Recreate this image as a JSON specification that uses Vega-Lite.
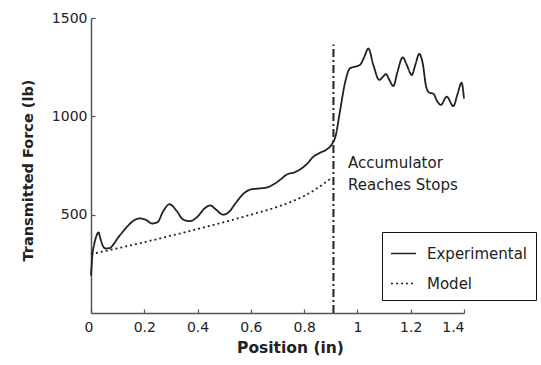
{
  "$schema": "https://vega.github.io/schema/vega-lite/v6.json",
  "autosize": "none",
  "width": 373,
  "height": 295,
  "padding": {"left": 91, "top": 18, "right": 77, "bottom": 52},
  "background": "white",
  "config": {
    "view": {"stroke": null},
    "font": "DejaVu Sans",
    "axis": {"grid": false, "domainColor": "#555", "domainWidth": 1.5, "tickColor": "#555", "tickSize": -4, "tickWidth": 1.2, "labelFont": "DejaVu Sans", "labelFontSize": 14, "labelColor": "#222", "titleFont": "DejaVu Sans", "titleFontWeight": "bold", "titleColor": "#222"}
  },
  "datasets": {
    "exp": [
      {"x": 0, "y": 190, "s": "Experimental"}, {"x": 0.005, "y": 290, "s": "Experimental"}, {"x": 0.012, "y": 350, "s": "Experimental"}, {"x": 0.02, "y": 390, "s": "Experimental"}, {"x": 0.028, "y": 410, "s": "Experimental"}, {"x": 0.036, "y": 375, "s": "Experimental"}, {"x": 0.045, "y": 340, "s": "Experimental"}, {"x": 0.055, "y": 328, "s": "Experimental"}, {"x": 0.07, "y": 330, "s": "Experimental"}, {"x": 0.085, "y": 350, "s": "Experimental"}, {"x": 0.1, "y": 380, "s": "Experimental"}, {"x": 0.12, "y": 414, "s": "Experimental"}, {"x": 0.14, "y": 445, "s": "Experimental"}, {"x": 0.16, "y": 470, "s": "Experimental"}, {"x": 0.185, "y": 481, "s": "Experimental"}, {"x": 0.205, "y": 474, "s": "Experimental"}, {"x": 0.23, "y": 455, "s": "Experimental"}, {"x": 0.25, "y": 462, "s": "Experimental"}, {"x": 0.27, "y": 515, "s": "Experimental"}, {"x": 0.295, "y": 553, "s": "Experimental"}, {"x": 0.32, "y": 522, "s": "Experimental"}, {"x": 0.345, "y": 476, "s": "Experimental"}, {"x": 0.37, "y": 467, "s": "Experimental"}, {"x": 0.4, "y": 490, "s": "Experimental"}, {"x": 0.425, "y": 530, "s": "Experimental"}, {"x": 0.447, "y": 547, "s": "Experimental"}, {"x": 0.47, "y": 525, "s": "Experimental"}, {"x": 0.495, "y": 500, "s": "Experimental"}, {"x": 0.515, "y": 510, "s": "Experimental"}, {"x": 0.545, "y": 563, "s": "Experimental"}, {"x": 0.575, "y": 610, "s": "Experimental"}, {"x": 0.6, "y": 628, "s": "Experimental"}, {"x": 0.63, "y": 633, "s": "Experimental"}, {"x": 0.66, "y": 638, "s": "Experimental"}, {"x": 0.68, "y": 650, "s": "Experimental"}, {"x": 0.705, "y": 672, "s": "Experimental"}, {"x": 0.735, "y": 704, "s": "Experimental"}, {"x": 0.765, "y": 716, "s": "Experimental"}, {"x": 0.79, "y": 735, "s": "Experimental"}, {"x": 0.81, "y": 757, "s": "Experimental"}, {"x": 0.835, "y": 795, "s": "Experimental"}, {"x": 0.86, "y": 815, "s": "Experimental"}, {"x": 0.885, "y": 832, "s": "Experimental"}, {"x": 0.905, "y": 860, "s": "Experimental"}, {"x": 0.918, "y": 900, "s": "Experimental"}, {"x": 0.935, "y": 1030, "s": "Experimental"}, {"x": 0.953, "y": 1168, "s": "Experimental"}, {"x": 0.972, "y": 1244, "s": "Experimental"}, {"x": 0.99, "y": 1252, "s": "Experimental"}, {"x": 1.01, "y": 1262, "s": "Experimental"}, {"x": 1.025, "y": 1300, "s": "Experimental"}, {"x": 1.041, "y": 1345, "s": "Experimental"}, {"x": 1.06, "y": 1260, "s": "Experimental"}, {"x": 1.082, "y": 1185, "s": "Experimental"}, {"x": 1.095, "y": 1200, "s": "Experimental"}, {"x": 1.107, "y": 1215, "s": "Experimental"}, {"x": 1.12, "y": 1185, "s": "Experimental"}, {"x": 1.135, "y": 1154, "s": "Experimental"}, {"x": 1.15, "y": 1225, "s": "Experimental"}, {"x": 1.17, "y": 1300, "s": "Experimental"}, {"x": 1.185, "y": 1262, "s": "Experimental"}, {"x": 1.204, "y": 1210, "s": "Experimental"}, {"x": 1.218, "y": 1265, "s": "Experimental"}, {"x": 1.232, "y": 1317, "s": "Experimental"}, {"x": 1.245, "y": 1270, "s": "Experimental"}, {"x": 1.258, "y": 1150, "s": "Experimental"}, {"x": 1.27, "y": 1120, "s": "Experimental"}, {"x": 1.285, "y": 1115, "s": "Experimental"}, {"x": 1.298, "y": 1080, "s": "Experimental"}, {"x": 1.313, "y": 1058, "s": "Experimental"}, {"x": 1.335, "y": 1100, "s": "Experimental"}, {"x": 1.36, "y": 1052, "s": "Experimental"}, {"x": 1.375, "y": 1110, "s": "Experimental"}, {"x": 1.391, "y": 1171, "s": "Experimental"}, {"x": 1.4, "y": 1090, "s": "Experimental"},
      {"x": 0, "y": 300, "s": "Model"}, {"x": 0.05, "y": 314, "s": "Model"}, {"x": 0.1, "y": 329, "s": "Model"}, {"x": 0.2, "y": 360, "s": "Model"}, {"x": 0.3, "y": 393, "s": "Model"}, {"x": 0.4, "y": 427, "s": "Model"}, {"x": 0.5, "y": 462, "s": "Model"}, {"x": 0.6, "y": 500, "s": "Model"}, {"x": 0.7, "y": 540, "s": "Model"}, {"x": 0.75, "y": 565, "s": "Model"}, {"x": 0.8, "y": 595, "s": "Model"}, {"x": 0.85, "y": 635, "s": "Model"}, {"x": 0.905, "y": 690, "s": "Model"}
    ],
    "stop": [{"x": 0.91, "y": 0, "y2": 1365}],
    "notes": [{"x": 0.965, "y": 763, "t": "Accumulator"}, {"x": 0.965, "y": 651, "t": "Reaches Stops"}]
  },
  "layer": [
    {
      "data": {"name": "stop"},
      "mark": {"type": "rule", "color": "#222", "strokeWidth": 2, "strokeDash": [8, 3, 2, 3]},
      "encoding": {
        "x": {"field": "x", "type": "quantitative", "scale": {"domain": [0, 1.4]}},
        "y": {"field": "y", "type": "quantitative", "scale": {"domain": [0, 1500]}},
        "y2": {"field": "y2"}
      }
    },
    {
      "data": {"name": "exp"},
      "mark": {"type": "line", "color": "#222", "strokeWidth": 1.8, "interpolate": "monotone"},
      "encoding": {
        "x": {"field": "x", "type": "quantitative", "scale": {"domain": [0, 1.4], "nice": false},
          "axis": {"values": [0, 0.2, 0.4, 0.6, 0.8, 1, 1.2, 1.4], "format": "~g", "title": "Position (in)", "titleFontSize": 15.5, "labelPadding": 11, "titlePadding": 6, "titleX": 199, "labelOffset": {"condition": {"test": "datum.value == 0", "value": -7}, "value": 0}}},
        "y": {"field": "y", "type": "quantitative", "scale": {"domain": [0, 1500], "nice": false},
          "axis": {"values": [500, 1000, 1500], "format": "d", "title": "Transmitted Force (lb)", "titleFontSize": 14.5, "labelPadding": 8, "titlePadding": 16, "titleY": 152}},
        "strokeDash": {"field": "s", "type": "nominal",
          "scale": {"domain": ["Experimental", "Model"], "range": [[1, 0], [2, 3]]},
          "legend": {"title": null, "orient": "none", "legendX": 291, "legendY": 214, "strokeColor": "#111", "fillColor": "white", "padding": 8, "symbolType": "stroke", "symbolSize": 625, "symbolStrokeWidth": 1.5, "symbolStrokeColor": "#222", "labelFont": "DejaVu Sans", "labelFontSize": 15, "labelColor": "#222", "labelOffset": 10, "rowPadding": 8}}
      }
    },
    {
      "data": {"name": "notes"},
      "mark": {"type": "text", "align": "left", "baseline": "middle", "font": "DejaVu Sans", "fontSize": 15, "color": "#222"},
      "encoding": {
        "x": {"field": "x", "type": "quantitative"},
        "y": {"field": "y", "type": "quantitative"},
        "text": {"field": "t"}
      }
    }
  ]
}
